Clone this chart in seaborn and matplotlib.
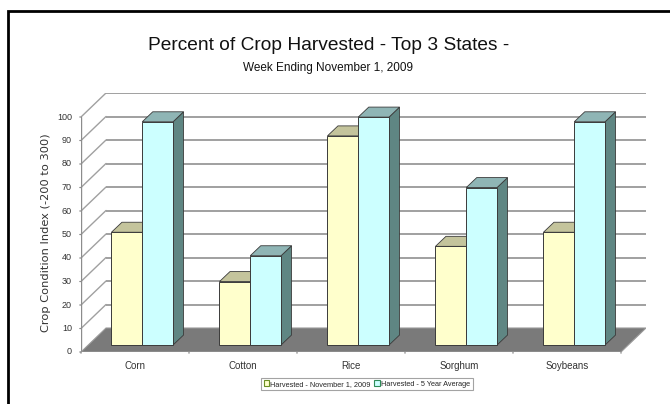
import numpy as np
import pandas as pd
import matplotlib
matplotlib.use("Agg")
import matplotlib.pyplot as plt
from matplotlib.patches import Polygon, Patch, Rectangle
import seaborn as sns

# ---------------- data ----------------
crops = ["Corn", "Cotton", "Rice", "Sorghum", "Soybeans"]
harvested_nov1 = [48, 27, 89, 42, 48]
harvested_5yr = [95, 38, 97, 67, 95]
series_names = ["Harvested - November 1, 2009", "Harvested - 5 Year Average"]
y_ticks = [0, 10, 20, 30, 40, 50, 60, 70, 80, 90, 100]

df = pd.DataFrame({
    "crop": crops * 2,
    "value": harvested_nov1 + harvested_5yr,
    "series": [series_names[0]] * len(crops) + [series_names[1]] * len(crops),
})

# ---------------- style ----------------
sns.set_theme(style="white")
plt.rcParams["font.family"] = ["Liberation Sans", "DejaVu Sans"]

W, H = 670, 404
fig = plt.figure(figsize=(W / 100, H / 100), dpi=100)
fig.patch.set_facecolor("white")

# geometry (pixels)
X0 = 81            # front left edge of plot
PXX = 108          # pixels per category
PXY = 2.35         # pixels per value unit
Y0 = 352           # front zero line (from top)
DXP, DYP = 25, 24  # depth of the 3-D box
ncat = len(crops)
DX = DXP / PXX
DY = DYP / PXY
ymax = max(y_ticks)

left = X0
right = X0 + ncat * PXX + DXP
top = Y0 - ymax * PXY - DYP
ax = fig.add_axes([left / W, (H - Y0) / H, (right - left) / W, (Y0 - top) / H])

yellow, cyan = "#FFFFCC", "#CCFFFF"
top_cols = ["#C4C49C", "#8FB5B5"]
side_cols = ["#9A9A78", "#5F8683"]
edge = "#3A3A3A"
grid_c = "#A0A0A0"

sns.barplot(data=df, x="crop", y="value", hue="series", order=crops,
            hue_order=series_names, palette=[yellow, cyan], saturation=1,
            width=0.57, gap=0, dodge=True, legend=False, ax=ax, edgecolor=edge,
            linewidth=0.7, errorbar=None)
ax.set_xlim(-0.5, ncat - 0.5 + DX)
ax.set_ylim(0, ymax + DY)
ax.axis("off")

# floor
xa, xb = -0.5, ncat - 0.5
floor = Polygon([(xa, 0), (xb, 0), (xb + DX, DY), (xa + DX, DY)], closed=True,
                facecolor="#7A7A7A", edgecolor="#9A9A9A", lw=0.8, zorder=1.5)
ax.add_patch(floor)

# back wall gridlines and left wall diagonals
for v in y_ticks:
    if v > 0:
        ax.plot([xa + DX, xb + DX], [v + DY, v + DY], color=grid_c, lw=1.4, zorder=1,
                solid_capstyle="butt")
        ax.plot([xa, xa + DX], [v, v + DY], color=grid_c, lw=1.0, zorder=1)
# front axis
ax.plot([xa, xa], [0, ymax], color="#8C8C8C", lw=1.0, zorder=1)
for v in y_ticks:
    ax.annotate("", xy=(xa, v), xytext=(-4, 0), textcoords="offset pixels",
                xycoords="data", arrowprops=dict(arrowstyle="-", color="#8C8C8C", lw=0.9))
    ax.annotate(str(v), xy=(xa, v), xytext=(-9, 0), textcoords="offset pixels",
                ha="right", va="center", fontsize=6.5, color="#333333")
# x tick marks at category boundaries on the front floor edge
for b in np.arange(-0.5, ncat, 1.0):
    ax.annotate("", xy=(b, 0), xytext=(0, -4), textcoords="offset pixels",
                arrowprops=dict(arrowstyle="-", color="#8C8C8C", lw=0.9))
ax.plot([xa, xb], [0, 0], color="#8C8C8C", lw=1.0, zorder=1.6)
for i, c in enumerate(crops):
    ax.annotate(c, xy=(i, 0), xytext=(0, -14), textcoords="offset pixels",
                ha="center", va="center", fontsize=7, color="#333333")

# 3-D bars: shift seaborn bars into mid-depth and add top/side faces
frac = 0.29
bdx, bdy = 10.5 / PXX, 10 / PXY
bars = list(ax.patches[:2 * ncat])
for k, p in enumerate(bars):
    s = k // ncat
    x0 = p.get_x() + frac * DX
    y0 = frac * DY
    w, h = p.get_width(), p.get_height()
    p.set_x(x0)
    p.set_y(y0)
    z = 3 + s
    p.set_zorder(z + 0.2)
    side = Polygon([(x0 + w, y0), (x0 + w, y0 + h), (x0 + w + bdx, y0 + h + bdy),
                    (x0 + w + bdx, y0 + bdy)], closed=True, facecolor=side_cols[s],
                   edgecolor=edge, lw=0.6, zorder=z)
    topf = Polygon([(x0, y0 + h), (x0 + w, y0 + h), (x0 + w + bdx, y0 + h + bdy),
                    (x0 + bdx, y0 + h + bdy)], closed=True, facecolor=top_cols[s],
                   edgecolor=edge, lw=0.6, zorder=z + 0.1)
    ax.add_patch(side)
    ax.add_patch(topf)

# titles
fig.text(329 / W, 1 - 45 / H, "Percent of Crop Harvested - Top 3 States -",
         ha="center", va="center", fontsize=13.8, color="#111111")
fig.text(328 / W, 1 - 68 / H, "Week Ending November 1, 2009",
         ha="center", va="center", fontsize=8.5, color="#111111")
fig.text(46 / W, 1 - 233 / H, "Crop Condition Index (-200 to 300)", rotation=90,
         ha="center", va="center", fontsize=8.2, color="#333333",
         family=["DejaVu Sans"])

# legend
handles = [Patch(facecolor=yellow, edgecolor="#6B8E23", lw=0.8),
           Patch(facecolor=cyan, edgecolor="#2E8B57", lw=0.8)]
leg = fig.legend(handles, series_names, loc="center", bbox_to_anchor=(367 / W, 1 - 384 / H),
                 ncol=2, fontsize=5.3, frameon=True, fancybox=False, borderpad=0.35,
                 handlelength=0.7, handleheight=0.7, handletextpad=0.2, columnspacing=0.5,
                 borderaxespad=0)
leg.get_frame().set_edgecolor("#8C8C8C")
leg.get_frame().set_linewidth(0.8)

# outer frame
fig.patches.append(Rectangle((7.5 / W, -0.1), 1.2, 1 - 10.5 / H + 0.1, transform=fig.transFigure,
                             fill=False, edgecolor="black", lw=2, zorder=10))

fig.savefig("out.png", dpi=100)
